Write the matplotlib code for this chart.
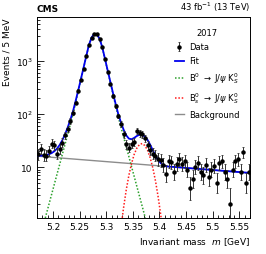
import numpy as np
import matplotlib
matplotlib.use("Agg")
import matplotlib.pyplot as plt
from matplotlib.ticker import MultipleLocator, LogLocator, NullFormatter

# binning: 5 MeV bins between 5.17 and 5.57 GeV
M_LO, M_HI, BIN_W = 5.17, 5.57, 0.005
centers = M_LO + BIN_W / 2 + BIN_W * np.arange(80)

# events per bin
data = [17.5, 22, 17, 16.5, 20, 28, 26, 18, 22, 29,
        40, 52, 74, 107, 166, 276, 443, 728, 1250, 2000,
        2800, 3300, 3250, 2650, 1850, 1090, 617, 368, 221, 143,
        93, 65, 42, 27, 23.5, 28, 30, 48, 44, 42,
        35, 26, 21, 18, 16.5, 14, 13.5, 11, 7.5, 13,
        12.5, 8, 11.5, 14, 11.5, 13, 9, 4, 6, 10,
        12, 8, 7, 11, 6.5, 9, 10.5, 5, 12, 13,
        8, 6, 2, 9, 13, 14, 8, 19, 5, 8]

# fit curves evaluated at the bin centres
fit_total = [16.5, 16.5, 16.7, 17.0, 17.6, 18.5, 20.0, 22.4, 26.2, 32.2,
             41.4, 55.7, 77.8, 112.5, 177, 284, 463, 759, 1250, 2020,
             2805, 3279, 3221, 2661, 1850, 1130, 686, 419, 256, 159,
             102, 71, 51.5, 40.1, 34.7, 33.7, 35.8, 38.9, 41.1, 41.1,
             38.1, 32.9, 26.6, 20.9, 16.5, 13.6, 11.9, 11.0, 10.40, 10.30,
             10.21, 10.12, 10.03, 9.94, 9.85, 9.77, 9.68, 9.59, 9.50, 9.42,
             9.33, 9.25, 9.17, 9.08, 9.00, 8.92, 8.84, 8.76, 8.68, 8.60,
             8.52, 8.45, 8.37, 8.29, 8.22, 8.14, 8.07, 8.00, 7.92, 7.85]
b0_curve = [0.356, 0.548, 0.844, 1.30, 2.00, 3.08, 4.74, 7.31, 11.2, 17.3,
            26.7, 41.1, 63.3, 98.2, 163, 270, 449, 745, 1236, 2006,
            2792, 3266, 3208, 2648, 1837, 1117, 673, 406, 244, 147,
            89.4, 58.1, 37.7, 24.5, 15.9, 10.3, 6.70, 4.35, 2.83, 1.84,
            1.19, 0.77, 0.50]
bs_first = 30
bs_curve = [0.26, 0.7, 1.7, 3.7, 7.0, 11.7, 17.5, 23.0, 26.9, 28.0,
            25.7, 21.0, 15.1, 9.7, 5.5, 2.75, 1.23, 0.49]
bkg_ends = [16.2, 7.78]

x_ticks = [5.2, 5.25, 5.3, 5.35, 5.4, 5.45, 5.5, 5.55]
x_ticklabels = ["5.2", "5.25", "5.3", "5.35", "5.4", "5.45", "5.5", "5.55"]
y_ticks = [10, 100, 1000]
y_ticklabels = ["10", "$10^2$", "$10^3$"]

data = np.array(data)
err_hi = 0.5 + np.sqrt(data + 0.25)
err_lo = -0.5 + np.sqrt(data + 0.25)

fig = plt.figure(figsize=(2.66, 2.55), dpi=100)
ax = fig.add_axes([0.139, 0.141, 0.801, 0.788])

bkg_line, = ax.plot([M_LO, M_HI], bkg_ends, color="#8c8c8c", lw=1.0, zorder=2)
b0_line, = ax.plot(centers[:len(b0_curve)], b0_curve, color="#2ca02c",
                   lw=1.1, ls=(0, (1, 1.2)), zorder=2)
bs_line, = ax.plot(centers[bs_first:bs_first + len(bs_curve)], bs_curve,
                   color="#ff1a1a", lw=1.1, ls=(0, (1, 1.2)), zorder=2)
fit_line, = ax.plot(centers, fit_total, color="#0000ee", lw=1.3, zorder=3)
dat = ax.errorbar(centers, data, yerr=[err_lo, err_hi], fmt="o", ms=2.2,
                  color="black", ecolor="#333333", elinewidth=0.7,
                  capsize=1.0, capthick=0.6, zorder=4)

ax.set_yscale("log")
ax.set_xlim(M_LO, M_HI)
ax.set_ylim(1.1, 6800)

ax.xaxis.set_minor_locator(MultipleLocator(0.01))
ax.set_xticks(x_ticks)
ax.set_xticklabels(x_ticklabels)
ax.yaxis.set_minor_locator(LogLocator(base=10, subs=np.arange(2, 10)))
ax.yaxis.set_minor_formatter(NullFormatter())
ax.set_yticks(y_ticks)
ax.set_yticklabels(y_ticklabels)
ax.tick_params(which="both", direction="in", top=False, right=False,
               labelsize=6.5, width=0.6, pad=3)
ax.tick_params(which="major", length=5)
ax.tick_params(which="minor", length=2.5)
for s in ax.spines.values():
    s.set_linewidth(0.7)

ax.set_ylabel("Events / 5 MeV", loc="top", fontsize=6.5, labelpad=3)
ax.set_xlabel("Invariant mass  $m$ [GeV]", loc="right", fontsize=6.5, labelpad=3)

fig.text(0.139, 0.945, "CMS", fontsize=6.5, fontweight="bold", ha="left", va="bottom")
fig.text(0.94, 0.945, "43 fb$^{-1}$ (13 TeV)", fontsize=6, ha="right", va="bottom")

handles = [dat, fit_line, b0_line, bs_line, bkg_line]
labels = ["Data", "Fit",
          r"B$^0$ $\rightarrow$ J/$\psi$ K$^0_S$",
          r"B$^0_s$ $\rightarrow$ J/$\psi$ K$^0_S$",
          "Background"]
leg = ax.legend(handles, labels, title="2017", loc="upper left",
                bbox_to_anchor=(0.63, 0.96), frameon=False, fontsize=6,
                title_fontsize=6, handlelength=1.1, handletextpad=0.6,
                labelspacing=0.6, borderaxespad=0)

fig.savefig("out.png", dpi=100)
